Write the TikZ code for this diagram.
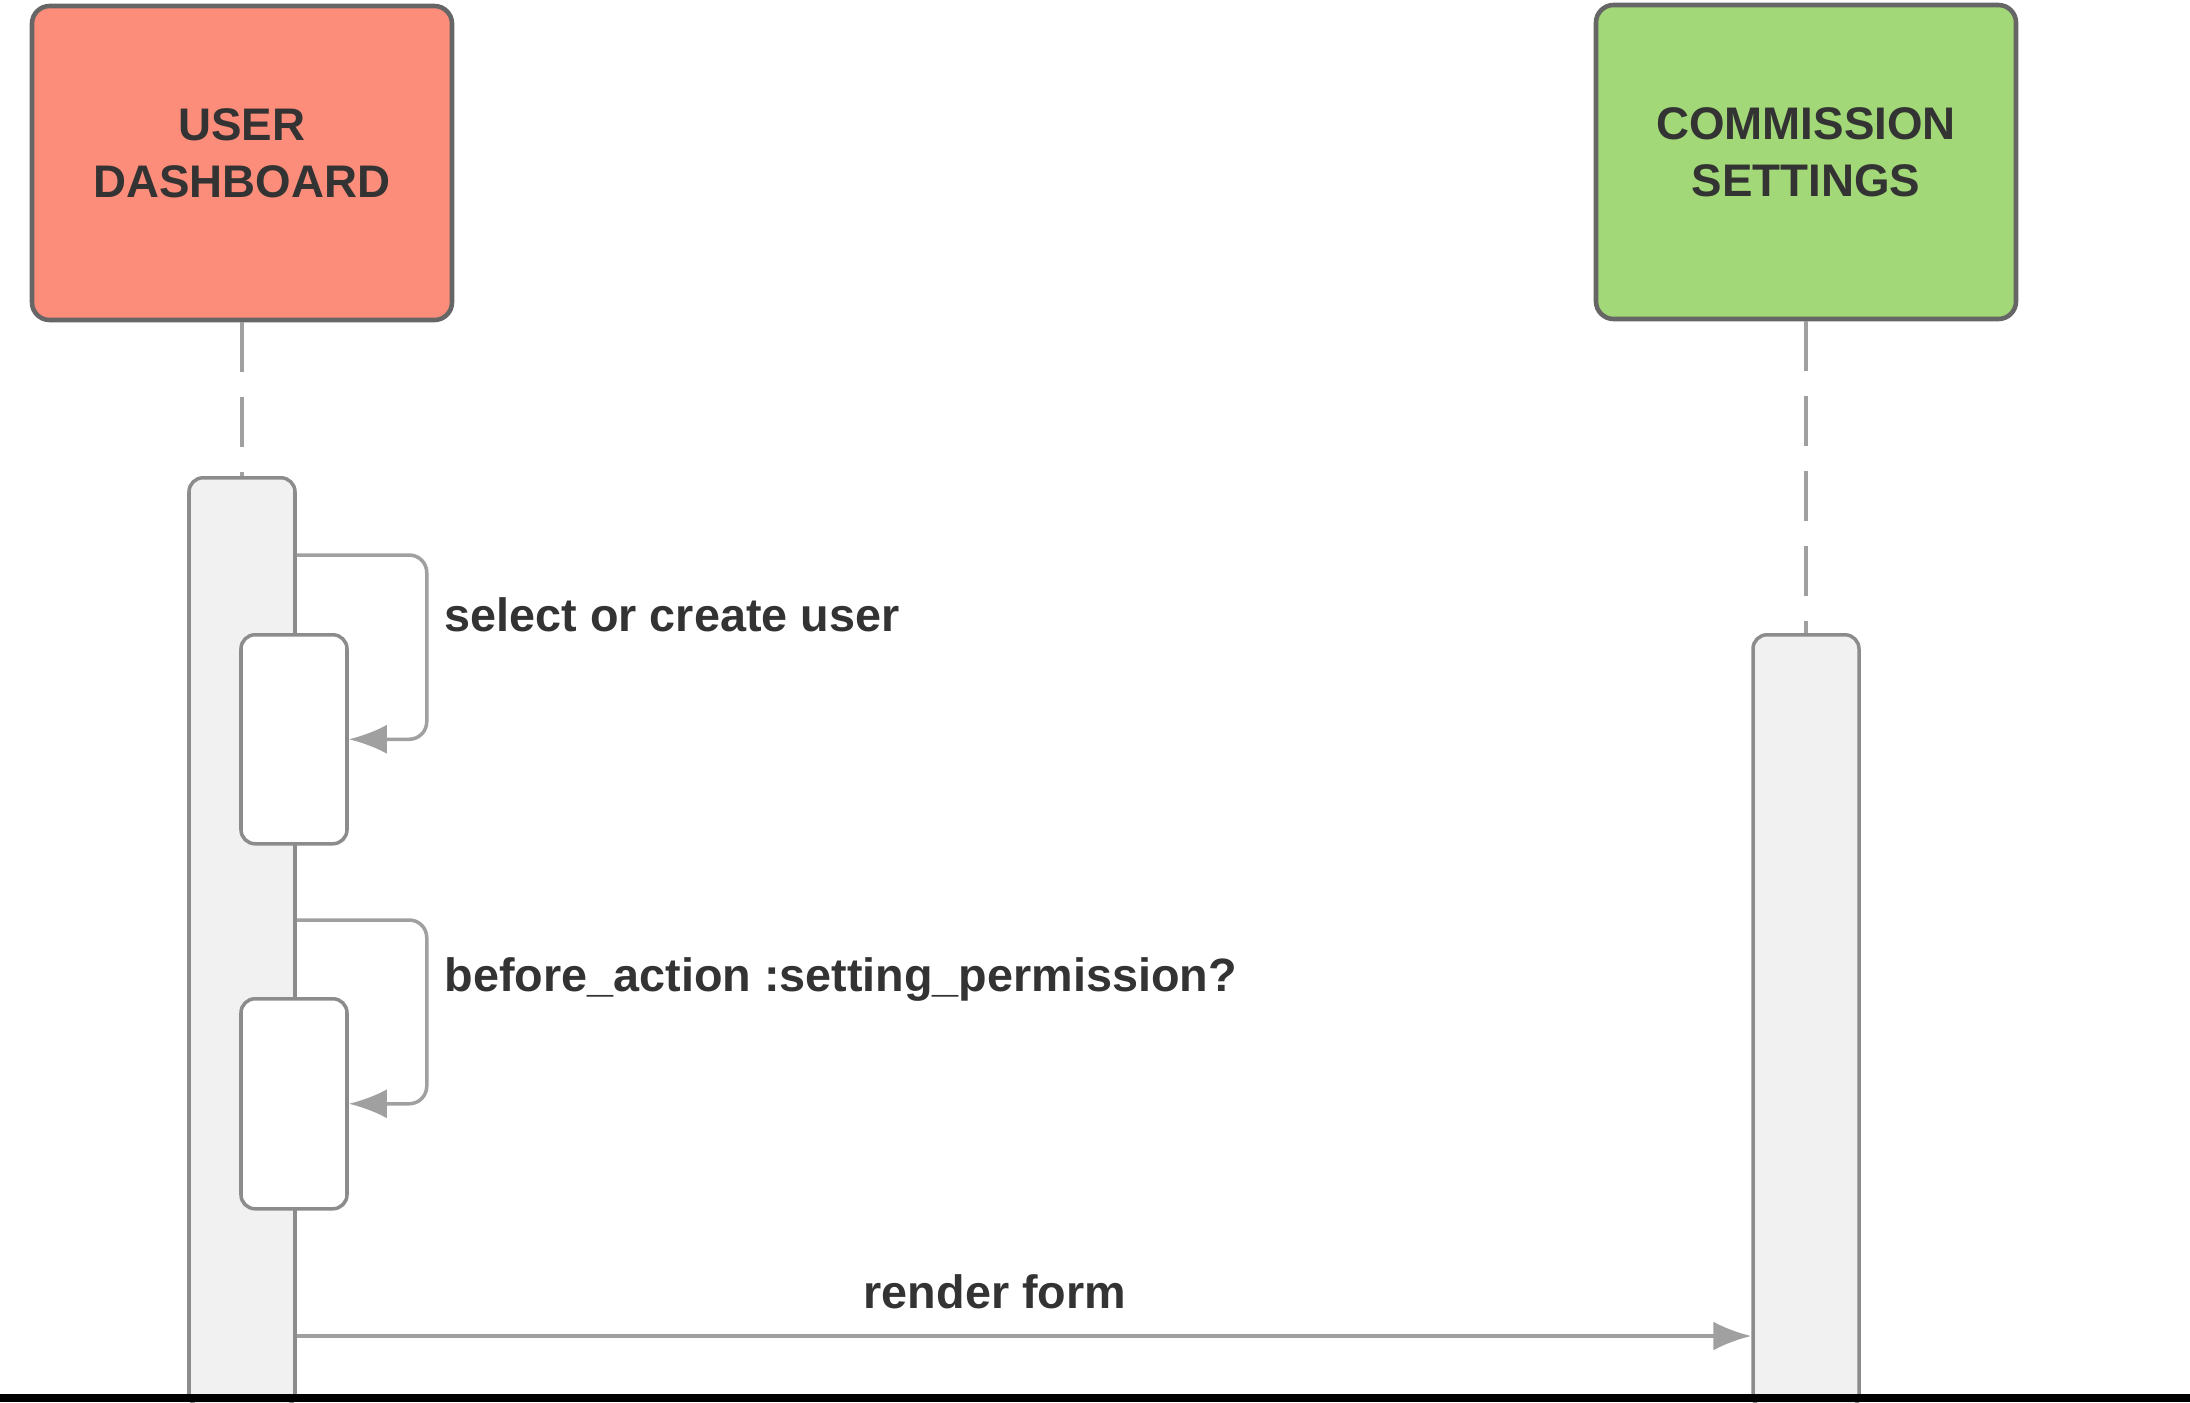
\documentclass[tikz,border=0pt]{standalone}
\usepackage{fontspec}
\setmainfont{Liberation Sans}
\usepackage{xcolor}
\usepackage{tikz}
\usetikzlibrary{calc,shapes,arrows.meta,positioning}
\definecolor{salmon}{HTML}{FC8D7B}
\definecolor{leaf}{HTML}{A2D877}
\definecolor{edgegray}{HTML}{666666}
\definecolor{bargray}{HTML}{F1F1F1}
\definecolor{msggray}{HTML}{A0A0A0}
\definecolor{ink}{HTML}{333333}

\begin{document}
\begin{tikzpicture}

        \tikzstyle{actor}=[draw=edgegray,line width=1.3pt,rounded corners=5pt,minimum width=4.2cm,minimum height=3.14cm,align=center,text=ink,text depth=2mm,font=\fontsize{13}{16}\selectfont\bfseries]
        \tikzstyle{bar}=[draw=gray!90,line width=1pt,fill=bargray,rounded corners=4pt,minimum width=1.06cm,inner sep=0pt]
        \tikzstyle{sub}=[bar,fill=white]
        \tikzstyle{life}=[draw=msggray,line width=1pt,dash pattern=on 5mm off 2.5mm]
        \tikzstyle{msg}=[draw=msggray,line width=1pt,rounded corners=5pt,-{Latex[length=3.8mm,width=2.9mm]}]
        \tikzstyle{lbl}=[text=ink,font=\fontsize{13.3}{15}\selectfont\bfseries,inner sep=0pt]

        \useasboundingbox (0,0) rectangle (21.9,-14.02);

        \node[actor,fill=salmon] (U) at (2.42,-1.63) {USER\\DASHBOARD};
        \node[actor,fill=leaf] (C) at (18.06,-1.62) {COMMISSION\\SETTINGS};

        \node[bar,minimum height=9.3cm,anchor=north] (UA) at (2.42,-4.76) {};
        \node[bar,minimum height=7.75cm,anchor=north] (CA) at (18.06,-6.33) {};
        \node[sub,minimum height=2.09cm,anchor=north] (S1) at (2.94,-6.33) {};
        \node[sub,minimum height=2.1cm,anchor=north] (S2) at (2.94,-9.97) {};

        \draw[life] (U.south) -- (UA.north);
        \draw[life] (C.south) -- (CA.north);

        % self calls
        \draw[msg] ([yshift=7.8mm]S1.north -| UA.east) -| ($(S1.east)+(0.78,0)$) -- (S1.east);
        \draw[msg] ([yshift=7.7mm]S2.north -| UA.east) -| ($(S2.east)+(0.78,0)$) -- (S2.east);
        \node[lbl,anchor=west] (L1) at (4.44,-6.15) {select or create user};
        \node[lbl,anchor=west] (L2) at (4.44,-9.79) {before\_action :setting\_permission?};

        \draw[msg] (UA.east |- 0,-13.36) -- node[lbl,above=2.5mm,pos=0.48] (L3) {render form} (CA.west |- 0,-13.36);

        \fill[black] (0,-13.94) rectangle (21.9,-14.02);

      \end{tikzpicture}
\end{document}
